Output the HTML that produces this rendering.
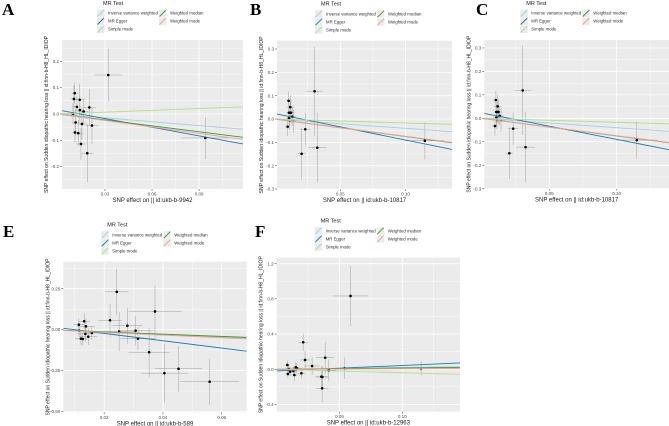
<!DOCTYPE html>
<html><head><meta charset="utf-8"><style>
html,body{margin:0;padding:0;background:#fff;}
svg{display:block;font-family:"Liberation Sans",sans-serif;}
</style></head><body>
<svg id="fig" width="669" height="426" viewBox="0 0 669 426" xmlns="http://www.w3.org/2000/svg"></svg>
<script>
// ---- Data: panel A ----
const aX=[0.0107,0.0102,0.0121,0.0139,0.0140,0.0164,0.0200,0.0096,0.0113,0.0153,0.0217,0.0109,0.0130,0.0147,0.0187,0.0321,0.094];
const aY=[0.079,0.057,0.027,0.054,0.015,0.009,0.025,0.0,-0.032,-0.038,-0.044,-0.070,-0.073,-0.114,-0.149,0.148,-0.091];
const aXe=[0.002,0.002,0.003,0.003,0.003,0.003,0.004,0.002,0.002,0.003,0.004,0.002,0.003,0.003,0.004,0.009,0.015];
const aYe=[0.04,0.05,0.04,0.06,0.05,0.05,0.07,0.04,0.05,0.06,0.07,0.04,0.05,0.06,0.11,0.10,0.08];
const aSlope=[-0.49,-1.094,0.23,-0.75,-0.82];
const aIcpt=[0,0.0153,0,0,0];
// ---- Data: panel B ----
const bX=[0.0104,0.0117,0.0107,0.0122,0.0132,0.0107,0.0112,0.0142,0.0097,0.0232,0.0303,0.0324,0.0204,0.1149];
const bY=[0.078,0.051,0.027,0.027,0.010,0.003,-0.007,-0.007,-0.033,-0.044,0.119,-0.123,-0.149,-0.093];
const bXe=[0.002,0.003,0.002,0.003,0.003,0.002,0.002,0.003,0.002,0.004,0.006,0.007,0.003,0.015];
const bYe=[0.04,0.05,0.04,0.05,0.04,0.04,0.04,0.05,0.04,0.07,0.19,0.15,0.11,0.08];
const bSlope=[-0.40,-1.13,-0.17,-0.75,-0.74];
const bIcpt=[0,0.023,0,0,0];
// ---- Data: panel C ----
const cX=[0.0104,0.0117,0.0107,0.0122,0.0132,0.0107,0.0112,0.0142,0.0097,0.0232,0.0303,0.0324,0.0204,0.1149];
const cY=[0.078,0.051,0.027,0.027,0.010,0.003,-0.007,-0.007,-0.033,-0.044,0.119,-0.123,-0.149,-0.093];
const cXe=[0.002,0.003,0.002,0.003,0.003,0.002,0.002,0.003,0.002,0.004,0.006,0.007,0.003,0.015];
const cYe=[0.04,0.05,0.04,0.05,0.04,0.04,0.04,0.05,0.04,0.07,0.19,0.15,0.11,0.08];
const cSlope=[-0.40,-1.13,-0.17,-0.75,-0.74];
const cIcpt=[0,0.023,0,0,0];
// ---- Data: panel E ----
const eX=[0.0114,0.0132,0.0115,0.0136,0.0121,0.0127,0.0138,0.0146,0.0158,0.0220,0.0243,0.0251,0.0279,0.0307,0.0315,0.0353,0.0373,0.0405,0.0453,0.0559];
const eY=[0.030,0.051,-0.006,-0.026,-0.055,-0.057,0.020,-0.043,-0.020,0.057,0.231,-0.012,0.024,-0.006,-0.055,-0.138,0.111,-0.266,-0.239,-0.318];
const eXe=[0.002,0.002,0.002,0.003,0.002,0.002,0.003,0.003,0.003,0.004,0.004,0.006,0.005,0.006,0.006,0.007,0.009,0.008,0.008,0.010];
const eYe=[0.04,0.05,0.04,0.05,0.04,0.04,0.05,0.05,0.04,0.10,0.14,0.12,0.11,0.09,0.07,0.15,0.16,0.18,0.14,0.14];
const eSlope=[-0.75,-2.24,-0.72,-0.69,-0.83];
const eIcpt=[0,0.0217,0,0,0];
// ---- Data: panel F ----
const fX=[0.0085,0.0089,0.0107,0.0096,0.0133,0.0141,0.0152,0.0160,0.0197,0.0211,0.0226,0.0282,0.0356,0.0364,0.0362,0.0386,0.0415,0.054,0.0588,0.115];
const fY=[0.049,-0.053,-0.027,0.003,-0.019,-0.065,0.023,0.011,-0.045,0.307,0.106,0.037,-0.084,-0.088,-0.216,0.132,-0.011,0.011,0.833,0.011];
const fXe=[0.002,0.002,0.002,0.002,0.003,0.003,0.003,0.003,0.003,0.004,0.004,0.006,0.005,0.005,0.005,0.007,0.006,0.0,0.014,0.0];
const fYe=[0.05,0.05,0.05,0.04,0.05,0.07,0.06,0.06,0.06,0.10,0.10,0.10,0.12,0.12,0.16,0.18,0.12,0.12,0.34,0.08];
const fSlope=[0.2,0.623,-0.39,0.14,0.07];
const fIcpt=[0,-0.019,0,0,0];
const methods=["Inverse variance weighted","MR Egger","Simple mode","Weighted median","Weighted mode"];
const colors=["#a6cee3","#1f78b4","#b2df8a","#33a02c","#fb9a99"];
const ytitle="SNP effect on Sudden idiopathic hearing loss || id:finn-b-H8_HL_IDIOP";

const NS="http://www.w3.org/2000/svg";
const svg=document.getElementById('fig');
function mk(tag,attrs,parent){const e=document.createElementNS(NS,tag);for(const k in attrs)e.setAttribute(k,attrs[k]);(parent||svg).appendChild(e);return e;}

function panel(cfg,xs,ys,xe,ye,slope,icpt){
  const g=mk('g',{});
  
  
  const sx=v=>cfg.L+(v-cfg.x0)/(cfg.x1-cfg.x0)*(cfg.R-cfg.L);
  const sy=v=>cfg.B-(v-cfg.y0)/(cfg.y1-cfg.y0)*(cfg.B-cfg.T);
  const cp='clip'+cfg.id;
  const cl=mk('clipPath',{id:cp},g);mk('rect',{x:cfg.L,y:cfg.T,width:cfg.R-cfg.L,height:cfg.B-cfg.T},cl);
  const bg=mk('rect',{x:cfg.L,y:cfg.T,width:cfg.R-cfg.L,height:cfg.B-cfg.T,fill:'#ebebeb'},g);
  
  
  // minor grid
  const xt=cfg.xt, yt=cfg.yt;
  const dx=xt[1]-xt[0], dy=yt[1]-yt[0];
  for(let v=xt[0]-dx*3.5; v<cfg.x1; v+=dx){ if(v>cfg.x0) mk('line',{x1:sx(v),x2:sx(v),y1:cfg.T,y2:cfg.B,stroke:'#fff','stroke-width':0.4},g);}
  for(let v=yt[0]-dy*3.5; v<cfg.y1; v+=dy){ if(v>cfg.y0) mk('line',{y1:sy(v),y2:sy(v),x1:cfg.L,x2:cfg.R,stroke:'#fff','stroke-width':0.4},g);}
  xt.forEach((v,i)=>{
    mk('line',{x1:sx(v),x2:sx(v),y1:cfg.T,y2:cfg.B,stroke:'#fff','stroke-width':0.8},g);
    mk('line',{x1:sx(v),x2:sx(v),y1:cfg.B,y2:cfg.B+2,stroke:'#333','stroke-width':0.5},g);
    const t=mk('text',{x:sx(v),y:cfg.B+6.5,'font-size':4.5,fill:'#4d4d4d','text-anchor':'middle'},g);t.textContent=cfg.xl[i];
    
    
  });
  yt.forEach((v,i)=>{
    mk('line',{y1:sy(v),y2:sy(v),x1:cfg.L,x2:cfg.R,stroke:'#fff','stroke-width':0.8},g);
    mk('line',{y1:sy(v),y2:sy(v),x1:cfg.L-2,x2:cfg.L,stroke:'#333','stroke-width':0.5},g);
    const t=mk('text',{x:cfg.L-3,y:sy(v)+1.6,'font-size':4.5,fill:'#4d4d4d','text-anchor':'end'},g);t.textContent=cfg.yl[i];
    
    
  });
  const pg=mk('g',{'clip-path':'url(#'+cp+')'},g);
  xs.forEach((x,i)=>{
    mk('line',{x1:sx(x),x2:sx(x),y1:sy(ys[i]-ye[i]),y2:sy(ys[i]+ye[i]),stroke:'#a0a0a0','stroke-width':0.5},pg);
    mk('line',{x1:sx(x-xe[i]),x2:sx(x+xe[i]),y1:sy(ys[i]),y2:sy(ys[i]),stroke:'#a0a0a0','stroke-width':0.5},pg);
  });
  xs.forEach((x,i)=>{
    const c=mk('circle',{cx:sx(x),cy:sy(ys[i]),r:1.3,fill:'#000'},pg);
    
    
  });
  slope.forEach((s,i)=>{
    const l=mk('line',{x1:sx(cfg.x0),y1:sy(icpt[i]+s*cfg.x0),x2:sx(cfg.x1),y2:sy(icpt[i]+s*cfg.x1),stroke:colors[i],'stroke-width':0.9},pg);
    
    
  });
  // axis titles
  const xtl=mk('text',{x:(cfg.L+cfg.R)/2,y:cfg.B+13,'font-size':6,fill:'#222','text-anchor':'middle'},g);
  xtl.textContent=cfg.xtitle;
  
  
  const ytl=mk('text',{x:0,y:0,'font-size':5,fill:'#222','text-anchor':'middle',transform:'translate('+(cfg.L-14)+','+((cfg.T+cfg.B)/2)+') rotate(-90)'},g);
  ytl.textContent=ytitle;
  
  
  // legend
  const lg=mk('g',{},g);
  
  
  const lx=cfg.L+cfg.lgx, ly=cfg.T-36;
  const tt=mk('text',{x:lx+6,y:ly+1,'font-size':5.5,fill:'#222'},lg);tt.textContent='MR Test';
  const pos=[[0,0],[0,1],[0,2],[1,0],[1,1]];
  methods.forEach((m,i)=>{
    const kx=lx+pos[i][0]*62, ky=ly+5.5+pos[i][1]*8;
    const e=mk('g',{},lg);
    
    
    mk('rect',{x:kx,y:ky,width:7.5,height:7.5,fill:'#ebebeb'},e);
    mk('line',{x1:kx+0.5,y1:ky+7,x2:kx+7,y2:ky+0.5,stroke:colors[i],'stroke-width':0.9},e);
    const t=mk('text',{x:kx+11,y:ky+5.2,'font-size':4.3,fill:'#333'},e);t.textContent=m;
  });
  const pl=mk('text',{x:cfg.lx,y:cfg.ly,'font-size':17,'font-weight':'bold','font-family':'"Liberation Serif",serif',fill:'#000'},svg);
  pl.textContent=cfg.id;
  
  
}
panel({id:'A',L:62,R:243,T:40,B:189,x0:0.0026,x1:0.118,y0:-0.285,y1:0.281,xt:[0.03,0.06,0.09],xl:['0.03','0.06','0.09'],yt:[-0.2,-0.1,0,0.1,0.2],yl:['-0.2','-0.1','0.0','0.1','0.2'],xtitle:'SNP effect on  || id:ukb-b-9942',lgx:35,lx:2,ly:15},aX,aY,aXe,aYe,aSlope,aIcpt);
panel({id:'B',L:277,R:452,T:40.7,B:189,x0:0.0015,x1:0.1357,y0:-0.3,y1:0.3356,xt:[0.05,0.10],xl:['0.05','0.10'],yt:[-0.3,-0.2,-0.1,0,0.1,0.2,0.3],yl:['-0.3','-0.2','-0.1','0.0','0.1','0.2','0.3'],xtitle:'SNP effect on  || id:ukb-b-10817',lgx:38,lx:250,ly:15},bX,bY,bXe,bYe,bSlope,bIcpt);
panel({id:'C',L:484.3,R:669,T:40,B:188.3,x0:0.0018,x1:0.1388,y0:-0.2985,y1:0.334,xt:[0.05,0.10],xl:['0.05','0.10'],yt:[-0.3,-0.2,-0.1,0,0.1,0.2,0.3],yl:['-0.3','-0.2','-0.1','0.0','0.1','0.2','0.3'],xtitle:'SNP effect on  || id:ukb-b-10817',lgx:36,lx:476,ly:15},cX,cY,cXe,cYe,cSlope,cIcpt);
panel({id:'E',L:63.3,R:246.7,T:261.7,B:412.3,x0:0.0061,x1:0.0685,y0:-0.505,y1:0.415,xt:[0.02,0.04,0.06],xl:['0.02','0.04','0.06'],yt:[-0.5,-0.25,0,0.25],yl:['-0.50','-0.25','0.00','0.25'],xtitle:'SNP effect on  || id:ukb-b-589',lgx:38,lx:3,ly:237},eX,eY,eXe,eYe,eSlope,eIcpt);
panel({id:'F',L:276.7,R:460,T:257.7,B:411.7,x0:0,x1:0.146,y0:-0.482,y1:1.268,xt:[0.05,0.10],xl:['0.05','0.10'],yt:[-0.4,0,0.4,0.8,1.2],yl:['-0.4','0.0','0.4','0.8','1.2'],xtitle:'SNP effect on  || id:ukb-b-12963',lgx:38,lx:255,ly:237},fX,fY,fXe,fYe,fSlope,fIcpt);
</script>
</body></html>
